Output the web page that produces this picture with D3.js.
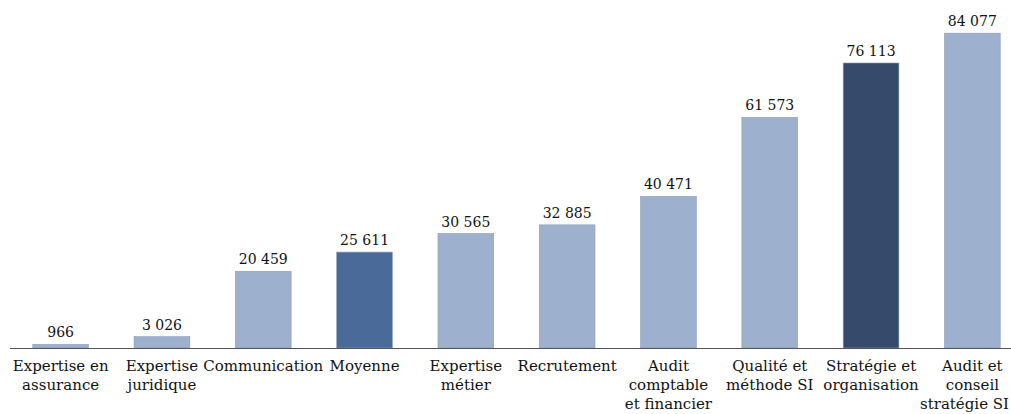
<!DOCTYPE html>
<html>
<head>
<meta charset="utf-8">
<script src="https://cdn.jsdelivr.net/npm/d3@7"></script>
<style>
  body { margin: 0; background: #fff; }
  svg { display: block; }
  text { font-family: "DejaVu Serif", "Liberation Serif", serif; fill: #111; }
</style>
</head>
<body>
<div id="chart"></div>
<script>
// Data
const categories = [
  ["Expertise en", "assurance"],
  ["Expertise", "juridique"],
  ["Communication"],
  ["Moyenne"],
  ["Expertise", "métier"],
  ["Recrutement"],
  ["Audit", "comptable", "et financier"],
  ["Qualité et", "méthode SI"],
  ["Stratégie et", "organisation"],
  ["Audit et", "conseil", "stratégie SI"]
];
const values = [966, 3026, 20459, 25611, 30565, 32885, 40471, 61573, 76113, 84077];
const barColors = ["#9DB0CD", "#9DB0CD", "#9DB0CD", "#4A6A9A", "#9DB0CD", "#9DB0CD", "#9DB0CD", "#9DB0CD", "#364B6C", "#9DB0CD"];

const width = 1011, height = 414;
const axisY = 348;

const svg = d3.select("#chart").append("svg")
  .attr("width", width)
  .attr("height", height);

const x = d3.scaleBand()
  .domain(d3.range(values.length))
  .range([10, 1023])
  .paddingInner(0.45)
  .paddingOuter(0.225);

const y = d3.scaleLinear()
  .domain([0, 90000])
  .range([axisY, 11]);

const fr = d3.formatLocale({ decimal: ",", thousands: " ", grouping: [3], currency: ["", " €"] });
const fmt = fr.format(",d");

// bars
svg.selectAll("rect.bar")
  .data(values)
  .join("rect")
  .attr("class", "bar")
  .attr("x", (d, i) => x(i))
  .attr("y", d => y(d))
  .attr("width", x.bandwidth())
  .attr("height", d => axisY - y(d))
  .attr("fill", (d, i) => barColors[i])
  .attr("stroke", "#8a9bb5")
  .attr("stroke-width", 0.6);

// value labels
svg.selectAll("text.val")
  .data(values)
  .join("text")
  .attr("class", "val")
  .attr("x", (d, i) => x(i) + x.bandwidth() / 2)
  .attr("y", d => y(d) - 7)
  .attr("text-anchor", "middle")
  .attr("font-size", "14px")
  .text(d => fmt(d));

// axis line
svg.append("line")
  .attr("x1", 10).attr("x2", width)
  .attr("y1", axisY + 0.5).attr("y2", axisY + 0.5)
  .attr("stroke", "#555")
  .attr("stroke-width", 1);

// category labels
const lab = svg.selectAll("text.cat")
  .data(categories)
  .join("text")
  .attr("class", "cat")
  .attr("text-anchor", "middle")
  .attr("font-size", "15px")
  .attr("transform", (d, i) => `translate(${x(i) + x.bandwidth() / 2},${axisY + 23})`);

lab.each(function(d, i) {
  const cx = x(i) + x.bandwidth() / 2;
  d3.select(this).selectAll("tspan")
    .data(d)
    .join("tspan")
    .attr("x", 0)
    .attr("y", (t, j) => j * 19)
    .text(t => t)
    .each(function() {
      // keep lines inside the picture on the right edge
      const w = this.getComputedTextLength();
      const over = cx + w / 2 - (width - 2);
      if (over > 0) d3.select(this).attr("x", -over);
    });
});
</script>
</body>
</html>
